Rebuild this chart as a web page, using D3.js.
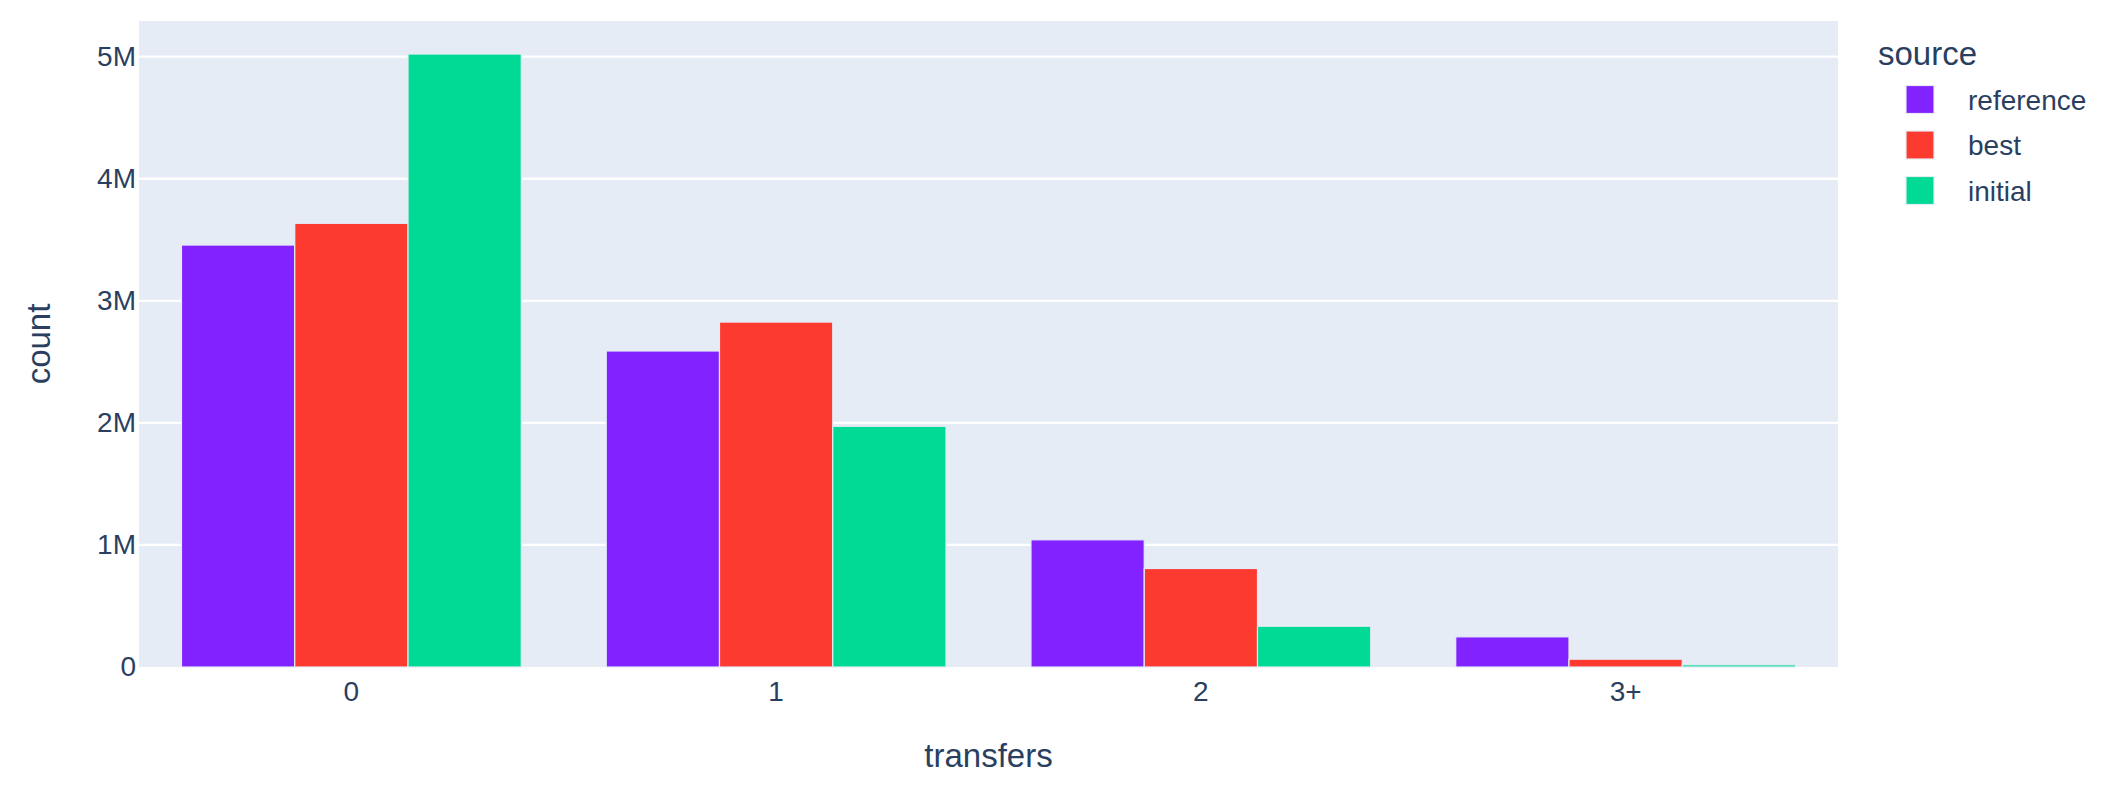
<!DOCTYPE html>
<html>
<head>
<meta charset="utf-8">
<script src="https://cdn.jsdelivr.net/npm/d3@7"></script>
<style>
  body { margin: 0; background: #fff; }
  text { font-family: "Liberation Sans", Arial, sans-serif; fill: #2a3f5f; }
</style>
</head>
<body>
<div id="chart"></div>
<script>
var categories = ["0", "1", "2", "3+"];
var sources = ["reference", "best", "initial"];
var colors = ["#8122ff", "#fd3a2f", "#00da94"];

// counts
var reference = [3457000, 2589000, 1042000, 247000];
var best = [3635000, 2826000, 807000, 64000];
var initial = [5022000, 1972000, 334000, 18000];
var yTicks = [0, 1000000, 2000000, 3000000, 4000000, 5000000];

var series = [reference, best, initial];

var width = 2113;
var height = 794;
var margin = {top: 21, right: 275, bottom: 127, left: 139};
var plotW = width - margin.left - margin.right;
var plotH = height - margin.top - margin.bottom;

var svg = d3.select("#chart")
  .append("svg")
  .attr("width", width)
  .attr("height", height);

var g = svg.append("g")
  .attr("transform", "translate(" + margin.left + "," + margin.top + ")");

var x = d3.scaleBand()
  .domain(categories)
  .range([0, plotW])
  .paddingInner(0.2)
  .paddingOuter(0.1);

var xInner = d3.scaleBand()
  .domain(sources)
  .range([0, x.bandwidth()]);

var y = d3.scaleLinear()
  .domain([0, 5292500])
  .range([plotH, 0]);

g.append("rect")
  .attr("width", plotW)
  .attr("height", plotH)
  .attr("fill", "#e5ecf6");

// grid
g.selectAll(".grid")
  .data(yTicks.slice(1))
  .enter().append("line")
  .attr("class", "grid")
  .attr("x1", 0)
  .attr("x2", plotW)
  .attr("y1", function(d) { return y(d); })
  .attr("y2", function(d) { return y(d); })
  .attr("stroke", "#fff")
  .attr("stroke-width", 2.3);

// bars
var rows = [];
series.forEach(function(s, i) {
  s.forEach(function(v, j) {
    rows.push({source: sources[i], cat: categories[j], value: v, color: colors[i]});
  });
});

g.selectAll(".bar")
  .data(rows)
  .enter().append("rect")
  .attr("class", "bar")
  .attr("x", function(d) { return x(d.cat) + xInner(d.source); })
  .attr("width", xInner.bandwidth())
  .attr("y", function(d) { return y(d.value); })
  .attr("height", function(d) { return plotH - y(d.value); })
  .attr("fill", function(d) { return d.color; })
  .attr("stroke", "#e5ecf6")
  .attr("stroke-width", 1.2);

// axes
var yAxis = g.append("g")
  .call(d3.axisLeft(y).tickValues(yTicks).tickFormat(d3.format("~s")).tickSize(0).tickPadding(3));
yAxis.select(".domain").remove();
yAxis.selectAll("text")
  .style("font-size", "28px")
  .style("font-family", "'Liberation Sans', Arial, sans-serif")
  .attr("fill", "#2a3f5f");

var xAxis = g.append("g")
  .attr("transform", "translate(0," + plotH + ")")
  .call(d3.axisBottom(x).tickSize(0).tickPadding(14));
xAxis.select(".domain").remove();
xAxis.selectAll("text")
  .style("font-size", "28px")
  .style("font-family", "'Liberation Sans', Arial, sans-serif")
  .attr("fill", "#2a3f5f");

// axis titles
svg.append("text")
  .attr("x", margin.left + plotW / 2)
  .attr("y", 767)
  .attr("text-anchor", "middle")
  .style("font-size", "33px")
  .text("transfers");

svg.append("text")
  .attr("transform", "translate(50," + (margin.top + plotH / 2) + ") rotate(-90)")
  .attr("text-anchor", "middle")
  .style("font-size", "33px")
  .text("count");

// legend
var legend = svg.append("g")
  .attr("transform", "translate(1878,0)");

legend.append("text")
  .attr("x", 0)
  .attr("y", 65)
  .style("font-size", "33px")
  .text("source");

var item = legend.selectAll(".item")
  .data(sources)
  .enter().append("g")
  .attr("class", "item")
  .attr("transform", function(d, i) { return "translate(0," + (99.5 + i * 45.5) + ")"; });

item.append("rect")
  .attr("x", 28)
  .attr("y", -14)
  .attr("width", 28)
  .attr("height", 28)
  .attr("fill", function(d, i) { return colors[i]; })
  .attr("stroke", "#e5ecf6")
  .attr("stroke-width", 1.2);

item.append("text")
  .attr("x", 90)
  .attr("y", 10)
  .style("font-size", "28px")
  .text(function(d) { return d; });
</script>
</body>
</html>
